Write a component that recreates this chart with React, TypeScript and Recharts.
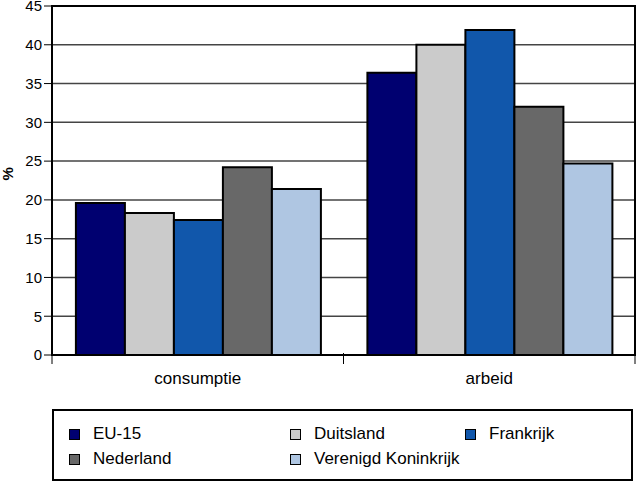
import { Bar, BarChart, CartesianGrid, Legend, ReferenceArea, XAxis, YAxis } from 'recharts'

const categories = ['consumptie', 'arbeid']
const eu15 = [19.6, 36.4]
const duitsland = [18.3, 40.0]
const frankrijk = [17.4, 41.9]
const nederland = [24.2, 32.0]
const vk = [21.4, 24.7]
const yTicks = [0, 5, 10, 15, 20, 25, 30, 35, 40, 45]

const SERIES = [
  { key: 'eu15', name: 'EU-15', color: '#000070', values: eu15 },
  { key: 'duitsland', name: 'Duitsland', color: '#cbcbcb', values: duitsland },
  { key: 'frankrijk', name: 'Frankrijk', color: '#1157ab', values: frankrijk },
  { key: 'nederland', name: 'Nederland', color: '#686868', values: nederland },
  { key: 'vk', name: 'Verenigd Koninkrijk', color: '#afc6e2', values: vk },
]

const data = categories.map((c, i) => {
  const row: Record<string, string | number> = { cat: c }
  SERIES.forEach((s) => (row[s.key] = s.values[i]))
  return row
})

const FONT = '"Liberation Sans", Arial, sans-serif'

function CatTick(props: any) {
  const { x, y, payload, index } = props
  const half = payload.offset ?? 146
  return (
    <g>
      {index === 0 && <line x1={x - half} y1={y - 10} x2={x - half} y2={y + 1} stroke="#000" strokeWidth={1} />}
      <line x1={x + half} y1={y - 10} x2={x + half} y2={y + 1} stroke="#000" strokeWidth={1} />
      <text x={x} y={y + 21} textAnchor="middle" fontSize={17} fontFamily={FONT} fill="#000">
        {payload.value}
      </text>
    </g>
  )
}

const legendPos = [
  { left: 15, top: 13 },
  { left: 236, top: 13 },
  { left: 411, top: 13 },
  { left: 15, top: 38 },
  { left: 236, top: 38 },
]

function LegendBox() {
  return (
    <div
      style={{
        position: 'relative',
        width: 577,
        height: 68,
        border: '2px solid #000',
        fontFamily: FONT,
        fontSize: 17,
        lineHeight: '20px',
        color: '#000',
        background: '#fff',
      }}
    >
      {SERIES.map((s, i) => (
        <div key={s.key} style={{ position: 'absolute', left: legendPos[i].left, top: legendPos[i].top, display: 'flex', alignItems: 'center', whiteSpace: 'nowrap' }}>
          <span style={{ display: 'inline-block', width: 9, height: 9, background: s.color, border: '1.5px solid #000', marginRight: 13 }} />
          <span>{s.name}</span>
        </div>
      ))}
    </div>
  )
}

export default function App() {
  return (
    <div style={{ position: 'absolute', left: 0, top: 0, width: 636, height: 484, background: '#fff' }}>
      <BarChart
        width={636}
        height={484}
        data={data}
        margin={{ top: 6, right: 1, left: 0, bottom: 17 }}
        barCategoryGap="8.2%"
        barGap={0}
      >
        <CartesianGrid horizontal vertical={false} stroke="#444" strokeWidth={1.5} />
        <XAxis dataKey="cat" tick={<CatTick />} tickLine={false} axisLine={{ stroke: '#000', strokeWidth: 2 }} interval={0} height={40} />
        <YAxis
          domain={[0, 45]}
          ticks={yTicks}
          width={52}
          tickSize={8}
          tickMargin={2}
          interval={0}
          axisLine={{ stroke: '#000', strokeWidth: 2 }}
          tickLine={{ stroke: '#000' }}
          tick={{ fontSize: 15, fontFamily: FONT, fill: '#000' }}
          label={{ value: '%', angle: -90, position: 'insideLeft', offset: 8, style: { fontSize: 15, fontWeight: 'bold', fontFamily: FONT, fill: '#000' } }}
        />
        <ReferenceArea y1={0} y2={45} fill="none" stroke="#000" strokeWidth={2} ifOverflow="visible" />
        {SERIES.map((s) => (
          <Bar key={s.key} dataKey={s.key} name={s.name} fill={s.color} stroke="#000" strokeWidth={2} isAnimationActive={false} />
        ))}
        <Legend
          content={() => <LegendBox />}
          wrapperStyle={{ position: 'absolute', left: 52, top: 409, width: 581, height: 72 }}
        />
      </BarChart>
    </div>
  )
}
